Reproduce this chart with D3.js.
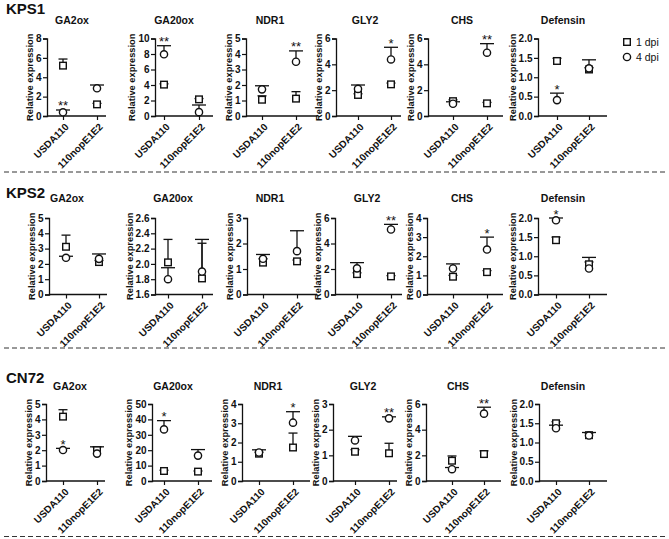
<!DOCTYPE html>
<html><head><meta charset="utf-8">
<script src="https://cdnjs.cloudflare.com/ajax/libs/d3/7.8.5/d3.min.js"></script>
<style>
body{margin:0;background:#fff;}
svg{display:block;font-family:Arial,"Liberation Sans",sans-serif;}
</style></head><body>
<script>
// ---------- DATA ----------
const rowNames = ["KPS1", "KPS2", "CN72"];
const genes = ["GA2ox", "GA20ox", "NDR1", "GLY2", "CHS", "Defensin"];
const strains = ["USDA110", "110nopE1E2"];
const seriesNames = ["1 dpi", "4 dpi"];

// y-axis domains per row / gene
const yDomains = [
  [[0, 8], [0, 10], [0, 5], [0, 6], [0, 6], [0, 2]],
  [[0, 5], [1.6, 2.6], [0, 3], [0, 6], [0, 4], [0, 2]],
  [[0, 5], [0, 50], [0, 4], [0, 3], [0, 6], [0, 2]]
];
// y tick labels per row / gene
const yTickLabels = [
  [["0","2","4","6","8"], ["0","2","4","6","8","10"], ["0","1","2","3","4","5"], ["0","2","4","6"], ["0","2","4","6"], ["0.0","0.5","1.0","1.5","2.0"]],
  [["0","1","2","3","4","5"], ["1.6","1.8","2.0","2.2","2.4","2.6"], ["0","1","2","3"], ["0","2","4","6"], ["0","1","2","3","4"], ["0.0","0.5","1.0","1.5","2.0"]],
  [["0","1","2","3","4","5"], ["0","10","20","30","40","50"], ["0","1","2","3","4"], ["0","1","2","3"], ["0","2","4","6"], ["0.0","0.5","1.0","1.5","2.0"]]
];

// 1 dpi (squares): mean and top of error bar, [USDA110, 110nopE1E2]
const dpi1Mean = [
  [[5.2, 1.2], [4.05, 2.15], [1.05, 1.12], [1.63, 2.45], [1.15, 0.98], [1.42, 1.2]],
  [[3.12, 2.12], [2.02, 1.81], [1.25, 1.3], [1.6, 1.42], [0.93, 1.17], [1.42, 0.79]],
  [[4.18, 2.0], [6.5, 6.1], [1.42, 1.74], [1.14, 1.08], [1.58, 2.1], [1.5, 1.19]]
];
const dpi1Top = [
  [[5.88, 1.3], [4.15, 2.25], [1.3, 1.57], [1.72, 2.55], [1.25, 1.05], [1.49, 1.25]],
  [[3.88, 2.22], [2.32, 2.27], [1.4, 1.35], [1.7, 1.48], [1.0, 1.25], [1.5, 0.85]],
  [[4.63, 2.22], [7.0, 6.5], [1.5, 2.49], [1.22, 1.47], [1.95, 2.35], [1.54, 1.25]]
];
// 4 dpi (circles): mean and top of error bar
const dpi4Mean = [
  [[0.38, 2.86], [7.96, 0.5], [1.72, 3.5], [2.1, 4.38], [0.95, 4.9], [0.41, 1.23]],
  [[2.4, 2.33], [1.8, 1.9], [1.4, 1.7], [2.05, 5.1], [1.36, 2.35], [1.94, 0.68]],
  [[2.01, 1.78], [33.5, 16.5], [1.48, 3.03], [1.58, 2.44], [0.92, 5.25], [1.37, 1.18]]
];
const dpi4Top = [
  [[0.62, 3.2], [9.07, 1.42], [1.95, 4.2], [2.4, 5.32], [1.1, 5.6], [0.59, 1.45]],
  [[2.5, 2.65], [1.95, 2.32], [1.57, 2.5], [2.5, 5.5], [1.6, 3.0], [2.0, 0.97]],
  [[2.12, 2.22], [39.2, 20.4], [1.62, 3.6], [1.74, 2.5], [1.05, 5.75], [1.45, 1.26]]
];
// significance marks (on the 4 dpi values)
const stars4dpi = [
  [["**", ""], ["**", ""], ["", "**"], ["", "*"], ["", "**"], ["*", ""]],
  [["", ""], ["", ""], ["", ""], ["", "**"], ["", "*"], ["*", ""]],
  [["*", ""], ["*", ""], ["", "*"], ["", "**"], ["", "**"], ["", ""]]
];

// ---------- LAYOUT ----------
const W = 669, H = 539;
const rowLayout = [
  {top: 38.5, bottom: 116, nameY: 13.5, titleY: 24, dashY: 172},
  {top: 218, bottom: 294.5, nameY: 198, titleY: 202, dashY: 348},
  {top: 404, bottom: 481, nameY: 383, titleY: 390, dashY: 536.5}
];
// per panel: [axisX, cat1X, cat2X, axisEndX, titleX]
const panelX = [
  [[47, 63, 97, 106, 72], [155, 164, 199, 213, 174], [246, 262, 296, 317, 270], [336, 358, 391, 401, 365], [428, 453, 487, 503, 462], [538, 557, 589, 607, 563]],
  [[49, 66, 99, 107, 67], [155, 168, 202, 213, 173], [247, 263, 297, 317, 270], [335, 357, 391, 402, 367], [427, 453, 487, 503, 462], [538, 556, 589, 607, 563]],
  [[46, 63, 97, 105, 70], [152, 164, 198, 212, 173], [242, 259, 293, 310, 268], [333, 355, 389, 397, 363], [426, 452, 484, 501, 458], [539, 556, 589, 607, 563]]
];

const svg = d3.select("body").append("svg").attr("width", W).attr("height", H);

// dashed separators
rowLayout.forEach(r => {
  svg.append("line").attr("x1", 4).attr("x2", 667).attr("y1", r.dashY).attr("y2", r.dashY)
    .attr("stroke", "#333").attr("stroke-width", 1).attr("stroke-dasharray", "5,3");
});

rowNames.forEach((rn, ri) => {
  const rl = rowLayout[ri];
  svg.append("text").attr("x", 6).attr("y", rl.nameY).text(rn)
    .attr("font-size", 15).attr("font-weight", "bold").attr("fill", "#111");

  genes.forEach((g, gi) => {
    const [ax, c1, c2, axEnd, tx] = panelX[ri][gi];
    const dom = yDomains[ri][gi];
    const labels = yTickLabels[ri][gi];
    const tickVals = labels.map(Number);
    const y = d3.scaleLinear().domain(dom).range([rl.bottom, rl.top]);
    const x = d3.scalePoint().domain(strains).range([c1, c2]);
    const gp = svg.append("g");

    // title
    gp.append("text").attr("x", tx).attr("y", rl.titleY).attr("text-anchor", "middle")
      .attr("font-size", 10.5).attr("font-weight", "bold").attr("fill", "#111").text(g);

    // y axis
    const yAxis = d3.axisLeft(y).tickValues(tickVals).tickSize(4).tickPadding(1.5)
      .tickFormat((d, i) => labels[i]);
    const yg = gp.append("g").attr("transform", `translate(${ax},0)`).call(yAxis);
    yg.select(".domain").attr("stroke", "#111").attr("stroke-width", 1.3);
    yg.selectAll(".tick line").attr("stroke", "#111").attr("stroke-width", 1.2);
    yg.selectAll(".tick text").attr("font-size", 10).attr("font-weight", "bold")
      .attr("font-family", 'Arial,"Liberation Sans",sans-serif').attr("fill", "#111");
    let minX = Infinity;
    yg.selectAll(".tick text").each(function () {
      const b = this.getBBox();
      minX = Math.min(minX, ax + b.x);
    });

    // y label
    gp.append("text").attr("transform", `translate(${minX - 3},${(rl.top + rl.bottom) / 2}) rotate(-90)`)
      .attr("text-anchor", "middle").attr("font-size", 9.3).attr("font-weight", "bold")
      .attr("fill", "#111").text("Relative expression");

    // x axis
    const xAxis = d3.axisBottom(x).tickSize(4).tickFormat("");
    const xg = gp.append("g").attr("transform", `translate(0,${rl.bottom})`).call(xAxis);
    xg.select(".domain").remove();
    xg.selectAll(".tick line").attr("stroke", "#111").attr("stroke-width", 1.2);
    gp.append("line").attr("x1", ax).attr("x2", axEnd).attr("y1", rl.bottom).attr("y2", rl.bottom)
      .attr("stroke", "#111").attr("stroke-width", 1.3);

    strains.forEach(s => {
      gp.append("text")
        .attr("transform", `translate(${x(s) + 4},${rl.bottom + 9}) rotate(-45)`)
        .attr("text-anchor", "end").attr("dy", "0.35em")
        .attr("font-size", 10).attr("font-weight", "bold").attr("fill", "#111").text(s);
    });

    // data
    const series = [
      {mean: dpi1Mean[ri][gi], top: dpi1Top[ri][gi], shape: "square", cap: 9},
      {mean: dpi4Mean[ri][gi], top: dpi4Top[ri][gi], shape: "circle", cap: 14}
    ];
    series.forEach(se => {
      strains.forEach((s, si) => {
        const cx = x(s);
        gp.append("line").attr("x1", cx).attr("x2", cx)
          .attr("y1", y(se.mean[si])).attr("y2", y(se.top[si]))
          .attr("stroke", "#111").attr("stroke-width", 1.3);
        gp.append("line").attr("x1", cx - se.cap / 2).attr("x2", cx + se.cap / 2)
          .attr("y1", y(se.top[si])).attr("y2", y(se.top[si]))
          .attr("stroke", "#111").attr("stroke-width", 1.3);
      });
    });
    series.forEach(se => {
      strains.forEach((s, si) => {
        const cx = x(s), cy = y(se.mean[si]);
        if (se.shape === "square") {
          gp.append("rect").attr("x", cx - 3.3).attr("y", cy - 3.3).attr("width", 6.6).attr("height", 6.6)
            .attr("fill", "#fff").attr("stroke", "#111").attr("stroke-width", 1.4);
        } else {
          gp.append("circle").attr("cx", cx).attr("cy", cy).attr("r", 3.6)
            .attr("fill", "#fff").attr("stroke", "#111").attr("stroke-width", 1.4);
        }
      });
    });
    // stars above the 4 dpi error bar
    strains.forEach((s, si) => {
      const st = stars4dpi[ri][gi][si];
      if (!st) return;
      gp.append("text").attr("x", x(s)).attr("y", y(dpi4Top[ri][gi][si]) + 0.5).attr("text-anchor", "middle")
        .attr("font-size", 13).attr("fill", "#111").text(st);
    });
  });
});

// legend
const leg = svg.append("g");
seriesNames.forEach((n, i) => {
  const ly = 42 + i * 15;
  if (i === 0) {
    leg.append("rect").attr("x", 627 - 3.3).attr("y", ly - 3.3).attr("width", 6.6).attr("height", 6.6)
      .attr("fill", "#fff").attr("stroke", "#111").attr("stroke-width", 1.4);
  } else {
    leg.append("circle").attr("cx", 627).attr("cy", ly).attr("r", 3.6)
      .attr("fill", "#fff").attr("stroke", "#111").attr("stroke-width", 1.4);
  }
  leg.append("text").attr("x", 636).attr("y", ly + 3.7).attr("font-size", 10.5).attr("fill", "#111").text(n);
});
</script>
</body></html>
